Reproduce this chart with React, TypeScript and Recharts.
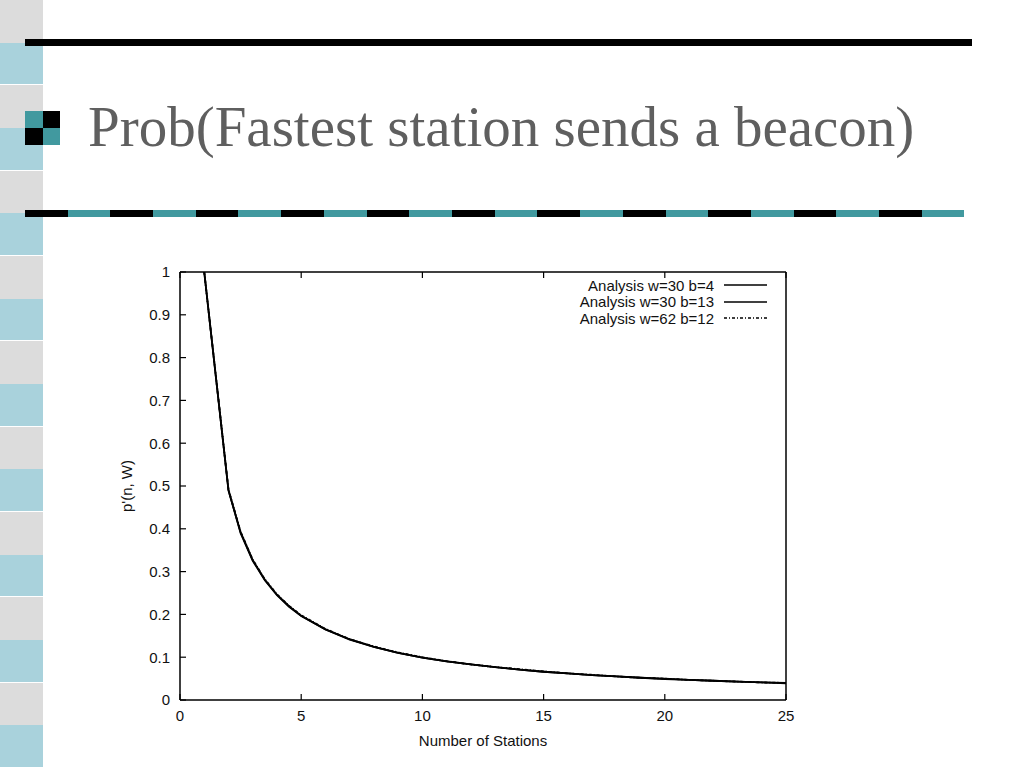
import { LineChart, Line, XAxis, YAxis } from 'recharts';

// p'(n, W), one value per station count
const stations = [1, 1.5, 2, 2.5, 3, 3.5, 4, 4.5, 5, 6, 7, 8, 9, 10, 11, 12, 13, 14, 15, 16, 17, 18, 19, 20, 21, 22, 23, 24, 25];
const w30b4 = [1.0, 0.745, 0.49, 0.39, 0.325, 0.28, 0.245, 0.218, 0.196, 0.165, 0.141, 0.124, 0.11, 0.099, 0.09, 0.083, 0.077, 0.071, 0.066, 0.062, 0.058, 0.055, 0.052, 0.049, 0.047, 0.045, 0.043, 0.041, 0.039];
const w30b13 = [1.0, 0.745, 0.49, 0.392, 0.327, 0.281, 0.246, 0.219, 0.197, 0.165, 0.142, 0.124, 0.11, 0.099, 0.09, 0.083, 0.077, 0.071, 0.066, 0.062, 0.058, 0.055, 0.052, 0.05, 0.047, 0.045, 0.043, 0.041, 0.04];
const w62b12 = [1.0, 0.746, 0.492, 0.393, 0.328, 0.282, 0.247, 0.22, 0.198, 0.166, 0.142, 0.125, 0.111, 0.1, 0.091, 0.083, 0.077, 0.072, 0.067, 0.062, 0.059, 0.055, 0.052, 0.05, 0.047, 0.045, 0.043, 0.041, 0.04];

const xTicks = [0, 5, 10, 15, 20, 25];
const yTicks = [0, 0.1, 0.2, 0.3, 0.4, 0.5, 0.6, 0.7, 0.8, 0.9, 1];
const seriesNames = ['Analysis w=30 b=4', 'Analysis w=30 b=13', 'Analysis w=62 b=12'];
const seriesDash = ['', '', '3 2 1 2'];

const TEAL = '#41999f';
const font = '"Liberation Sans", Arial, sans-serif';

const rows = stations.map((n, i) => ({ n, a: w30b4[i], b: w30b13[i], c: w62b12[i] }));

// mirror axes: tick marks only, no labels
const NoLabel = () => <g />;

export default function App() {
    const tickStyle = { fontFamily: font, fontSize: 15, fill: '#111' };
    const axisLine = { stroke: '#000', strokeWidth: 1.5 };
    const tickLine = { stroke: '#000', strokeWidth: 1.2 };
    return (
        <div style={{ position: 'absolute', left: 0, top: 0, width: 1024, height: 768, background: '#fff', overflow: 'hidden' }}>
            {/* side stripe */}
            {Array.from({ length: 18 }).map((_, i) => (
                <div key={i} style={{
                    position: 'absolute', left: 0, width: 43, top: i * 42.67, height: 42.67,
                    background: i % 2 ? '#a9d2dc' : '#dcdcdc',
                    borderBottom: i % 2 ? '1px solid #fff' : 'none', boxSizing: 'border-box',
                }} />
            ))}
            <div style={{ position: 'absolute', left: 25, top: 39, width: 947, height: 7, background: '#000' }} />
            {/* bullet */}
            <div style={{ position: 'absolute', left: 25, top: 111, width: 35, height: 34, display: 'grid', gridTemplateColumns: '1fr 1fr' }}>
                <div style={{ background: TEAL }} />
                <div style={{ background: '#000' }} />
                <div style={{ background: '#000' }} />
                <div style={{ background: TEAL }} />
            </div>
            <div style={{
                position: 'absolute', left: 88, top: 92, fontFamily: '"Liberation Serif", "Times New Roman", serif',
                fontSize: 57, color: '#5f5f5f', whiteSpace: 'nowrap', lineHeight: '70px',
            }}>
                Prob(Fastest station sends a beacon)
            </div>
            <div style={{
                position: 'absolute', left: 25, top: 210, width: 939, height: 7,
                background: `repeating-linear-gradient(90deg, #000 0 42.7px, ${TEAL} 42.7px 85.4px)`,
            }} />

            <div style={{ position: 'absolute', left: 100, top: 250 }}>
                <LineChart width={720} height={510} data={rows} margin={{ top: 21, right: 33, bottom: 10, left: 0 }}>
                    <XAxis dataKey="n" type="number" domain={[0, 25]} ticks={xTicks} height={50}
                        tickSize={-6} tickMargin={16} tick={tickStyle}
                        axisLine={axisLine} tickLine={tickLine}
                        label={{ value: 'Number of Stations', position: 'insideBottom', offset: 4, style: { fontFamily: font, fontSize: 15, fill: '#111' } }} />
                    <XAxis xAxisId="top" orientation="top" dataKey="n" type="number" domain={[0, 25]} ticks={xTicks} height={1}
                        tickSize={-6} tick={NoLabel} axisLine={axisLine} tickLine={tickLine} />
                    <YAxis type="number" domain={[0, 1]} ticks={yTicks} width={80}
                        tickSize={-6} tickMargin={16} tick={tickStyle}
                        axisLine={axisLine} tickLine={tickLine}
                        label={{ value: "p'(n, W)", angle: -90, position: 'insideLeft', offset: 27, style: { fontFamily: font, fontSize: 15, fill: '#111', textAnchor: 'middle' } }} />
                    <YAxis yAxisId="right" orientation="right" type="number" domain={[0, 1]} ticks={yTicks} width={1}
                        tickSize={-6} tick={NoLabel} axisLine={axisLine} tickLine={tickLine} />
                    <Line dataKey="a" stroke="#000" strokeWidth={1.8} dot={false} isAnimationActive={false} />
                    <Line dataKey="b" stroke="#000" strokeWidth={1.8} dot={false} isAnimationActive={false} />
                    <Line dataKey="c" stroke="#000" strokeWidth={1.8} strokeDasharray={seriesDash[2]} dot={false} isAnimationActive={false} />
                </LineChart>
            </div>

            {/* legend */}
            <div style={{ position: 'absolute', left: 450, top: 277, width: 317, fontFamily: font, fontSize: 15, color: '#111' }}>
                {seriesNames.map((name, i) => (
                    <div key={name} style={{ display: 'flex', justifyContent: 'flex-end', alignItems: 'center', height: 16.5 }}>
                        <span style={{ whiteSpace: 'nowrap' }}>{name}</span>
                        <svg width={43} height={8} style={{ marginLeft: 10 }}>
                            <line x1={0} y1={4} x2={43} y2={4} stroke="#000" strokeWidth={1.3} strokeDasharray={seriesDash[i] || undefined} />
                        </svg>
                    </div>
                ))}
            </div>
        </div>
    );
}
